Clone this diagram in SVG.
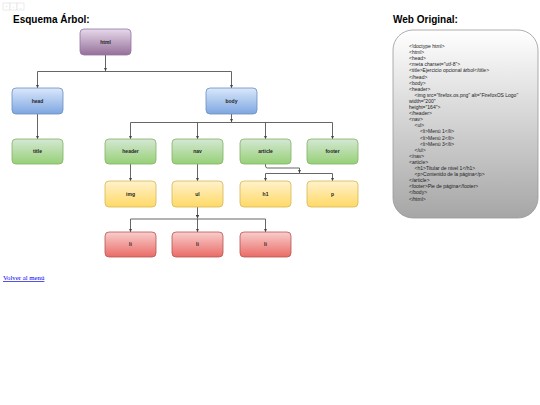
<svg xmlns="http://www.w3.org/2000/svg" width="540" height="405" viewBox="0 0 540 405">
<defs>
<linearGradient id="gPurple" x1="0" y1="0" x2="0" y2="1"><stop offset="0" stop-color="#e6d9ea"/><stop offset="1" stop-color="#957099"/></linearGradient>
<linearGradient id="gBlue" x1="0" y1="0" x2="0" y2="1"><stop offset="0" stop-color="#dae8fc"/><stop offset="1" stop-color="#7ea6e0"/></linearGradient>
<linearGradient id="gGreen" x1="0" y1="0" x2="0" y2="1"><stop offset="0" stop-color="#d5e8d4"/><stop offset="1" stop-color="#97d077"/></linearGradient>
<linearGradient id="gYellow" x1="0" y1="0" x2="0" y2="1"><stop offset="0" stop-color="#fff2cc"/><stop offset="1" stop-color="#ffd966"/></linearGradient>
<linearGradient id="gRed" x1="0" y1="0" x2="0" y2="1"><stop offset="0" stop-color="#f8cecc"/><stop offset="1" stop-color="#ea6b66"/></linearGradient>
<linearGradient id="gCode" x1="0" y1="0" x2="0" y2="1"><stop offset="0" stop-color="#ffffff"/><stop offset="1" stop-color="#a6a6a6"/></linearGradient>
<marker id="arr" viewBox="0 0 6 6" refX="6" refY="3" markerWidth="3.5" markerHeight="3.5" orient="auto" markerUnits="userSpaceOnUse"><path d="M0,0 L6,3 L0,6 Z" fill="#444"/></marker>
</defs>
<style>
.n rect{stroke-width:0.8}
.pu{fill:url(#gPurple);stroke:#9673a6}
.bl{fill:url(#gBlue);stroke:#6c8ebf}
.gr{fill:url(#gGreen);stroke:#82b366}
.ye{fill:url(#gYellow);stroke:#d6b656}
.re{fill:url(#gRed);stroke:#b85450}
.n text{font-family:"Liberation Sans",Arial,sans-serif;font-size:5px;font-weight:bold;fill:#222;text-anchor:middle}
.c path{fill:none;stroke:#555;stroke-width:0.9}
.h{font-family:"Liberation Sans",Arial,sans-serif;font-size:10px;font-weight:bold;fill:#000}
.code{font-family:"Liberation Sans",Arial,sans-serif;font-size:5px;fill:#222}
</style>
<rect width="540" height="405" fill="#ffffff"/>
<g id="toolbar" font-family="Liberation Sans, Arial, sans-serif" font-size="3.5" fill="#bbb">
<rect x="3" y="3" width="7" height="7" fill="#fff" stroke="#d8d8d8" stroke-width="0.5"/>
<rect x="10" y="3" width="7" height="7" fill="#fff" stroke="#d8d8d8" stroke-width="0.5"/>
<rect x="17" y="3" width="7" height="7" fill="#fff" stroke="#d8d8d8" stroke-width="0.5"/>
<text x="6.5" y="7.8" text-anchor="middle">‹</text>
<text x="13.5" y="7.8" text-anchor="middle">-</text>
<text x="20.5" y="8.5" text-anchor="middle">...</text>
</g>
<text class="h" x="13" y="22.5">Esquema Árbol:</text>
<text class="h" x="393" y="22.5">Web Original:</text>
<g id="connectors" class="c">
<path d="M105.5,55 V71" marker-end="url(#arr)"/>
<path d="M37.5,71.5 H231.5"/>
<path d="M37.5,71.5 V88" marker-end="url(#arr)"/>
<path d="M231.5,71.5 V88" marker-end="url(#arr)"/>
<path d="M37.5,114 V139" marker-end="url(#arr)"/>
<path d="M231.5,114 V122" marker-end="url(#arr)"/>
<path d="M130.5,122.5 H332.5"/>
<path d="M130.5,122.5 V139" marker-end="url(#arr)"/>
<path d="M197.5,122.5 V139" marker-end="url(#arr)"/>
<path d="M265.5,122.5 V139" marker-end="url(#arr)"/>
<path d="M332.5,122.5 V139" marker-end="url(#arr)"/>
<path d="M130.5,164 V181" marker-end="url(#arr)"/>
<path d="M197.5,164 V181" marker-end="url(#arr)"/>
<path d="M265.5,164 V166 Q265.5,168 267.5,168 H299.5 V173" marker-end="url(#arr)"/>
<path d="M265.5,173.5 H332.5"/>
<path d="M265.5,173.5 V181" marker-end="url(#arr)"/>
<path d="M332.5,173.5 V181" marker-end="url(#arr)"/>
<path d="M197.5,207 V218.5" marker-end="url(#arr)"/>
<path d="M130.5,219 H265.5"/>
<path d="M130.5,219 V232" marker-end="url(#arr)"/>
<path d="M197.5,219 V232" marker-end="url(#arr)"/>
<path d="M265.5,219 V232" marker-end="url(#arr)"/>
</g>
<g id="html" class="n"><rect class="pu" x="80" y="29" width="51" height="26" rx="4"/><text x="105.5" y="43.5">html</text></g>
<g id="head" class="n"><rect class="bl" x="12" y="88" width="51" height="26" rx="4"/><text x="37.5" y="102.5">head</text></g>
<g id="body" class="n"><rect class="bl" x="206" y="88" width="51" height="26" rx="4"/><text x="231.5" y="102.5">body</text></g>
<g id="title" class="n"><rect class="gr" x="12" y="139" width="51" height="25" rx="4"/><text x="37.5" y="153">title</text></g>
<g id="header" class="n"><rect class="gr" x="105" y="139" width="51" height="25" rx="4"/><text x="130.5" y="153">header</text></g>
<g id="nav" class="n"><rect class="gr" x="172" y="139" width="51" height="25" rx="4"/><text x="197.5" y="153">nav</text></g>
<g id="article" class="n"><rect class="gr" x="240" y="139" width="51" height="25" rx="4"/><text x="265.5" y="153">article</text></g>
<g id="footer" class="n"><rect class="gr" x="307" y="139" width="51" height="25" rx="4"/><text x="332.5" y="153">footer</text></g>
<g id="img" class="n"><rect class="ye" x="105" y="181" width="51" height="26" rx="4"/><text x="130.5" y="195.5">img</text></g>
<g id="ul" class="n"><rect class="ye" x="172" y="181" width="51" height="26" rx="4"/><text x="197.5" y="195.5">ul</text></g>
<g id="h1" class="n"><rect class="ye" x="240" y="181" width="51" height="26" rx="4"/><text x="265.5" y="195.5">h1</text></g>
<g id="p" class="n"><rect class="ye" x="307" y="181" width="51" height="26" rx="4"/><text x="332.5" y="195.5">p</text></g>
<g id="li1" class="n"><rect class="re" x="105" y="232" width="51" height="25" rx="4"/><text x="130.5" y="246">li</text></g>
<g id="li2" class="n"><rect class="re" x="172" y="232" width="51" height="25" rx="4"/><text x="197.5" y="246">li</text></g>
<g id="li3" class="n"><rect class="re" x="240" y="232" width="51" height="25" rx="4"/><text x="265.5" y="246">li</text></g>
<g id="codebox">
<rect x="393" y="30" width="145" height="188" rx="20" fill="url(#gCode)" stroke="#999" stroke-width="0.8"/>
<g class="code">
<text x="409" y="48">&lt;!doctype html&gt;</text>
<text x="409" y="54.1">&lt;html&gt;</text>
<text x="409" y="60.2">&lt;head&gt;</text>
<text x="409" y="66.3">&lt;meta charset="utf-8"&gt;</text>
<text x="409" y="72.4">&lt;title&gt;Ejercicio opcional árbol&lt;/title&gt;</text>
<text x="409" y="78.5">&lt;/head&gt;</text>
<text x="409" y="84.6">&lt;body&gt;</text>
<text x="409" y="90.7">&lt;header&gt;</text>
<text x="414.5" y="96.8">&lt;img src="firefox.os.png" alt="FirefoxOS Logo"</text>
<text x="409" y="102.9">width="200"</text>
<text x="409" y="109">height="164"&gt;</text>
<text x="409" y="115.1">&lt;/header&gt;</text>
<text x="409" y="121.2">&lt;nav&gt;</text>
<text x="414.5" y="127.3">&lt;ul&gt;</text>
<text x="420" y="133.4">&lt;li&gt;Menú 1&lt;/li&gt;</text>
<text x="420" y="139.5">&lt;li&gt;Menú 2&lt;/li&gt;</text>
<text x="420" y="145.6">&lt;li&gt;Menú 3&lt;/li&gt;</text>
<text x="414.5" y="151.7">&lt;/ul&gt;</text>
<text x="409" y="157.8">&lt;/nav&gt;</text>
<text x="409" y="163.9">&lt;article&gt;</text>
<text x="414.5" y="170">&lt;h1&gt;Titular de nivel 1&lt;/h1&gt;</text>
<text x="414.5" y="176.1">&lt;p&gt;Contenido de la página&lt;/p&gt;</text>
<text x="409" y="182.2">&lt;/article&gt;</text>
<text x="409" y="188.3">&lt;footer&gt;Pie de página&lt;/footer&gt;</text>
<text x="409" y="194.4">&lt;/body&gt;</text>
<text x="409" y="200.5">&lt;/html&gt;</text>
</g>
</g>
<text x="3" y="280" font-family="Liberation Serif, 'Times New Roman', serif" font-size="6.8" fill="#0000ee" text-decoration="underline">Volver al menú</text>
</svg>
